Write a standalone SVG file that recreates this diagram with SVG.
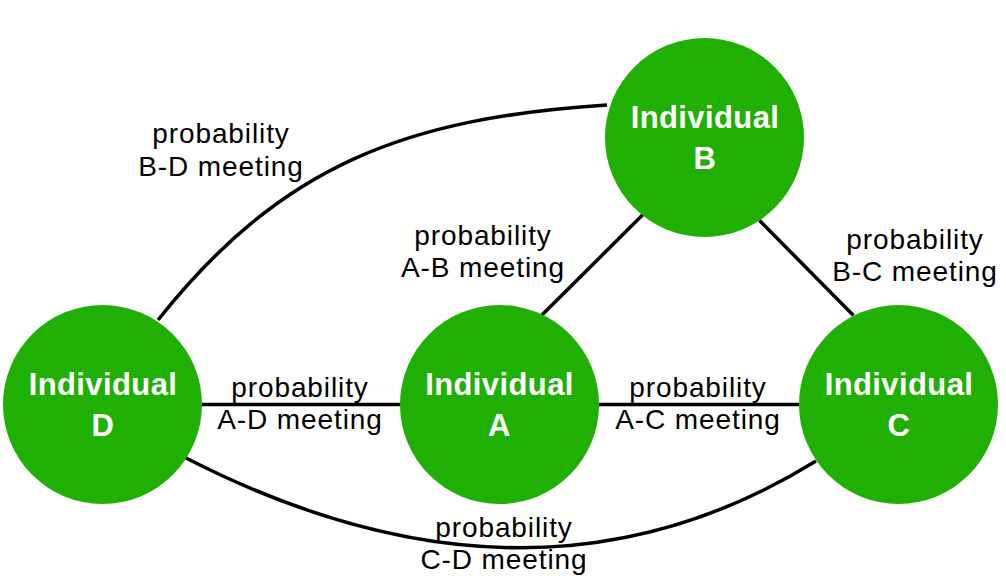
<svg xmlns="http://www.w3.org/2000/svg" width="1006" height="582" viewBox="0 0 1006 582">
<style>
.edge{fill:none;stroke:#000;stroke-width:3.5}
.node circle{fill:#20b004}
.nt{font-family:"Liberation Sans",Arial,sans-serif;font-size:31px;font-weight:bold;fill:#fff;text-anchor:middle;letter-spacing:0.4px}
.lbl{font-family:"Liberation Sans",Arial,sans-serif;font-size:28px;fill:#000;text-anchor:middle;letter-spacing:0.9px}
</style>
<rect width="1006" height="582" fill="#fff"/>
<g id="connectors">
<path class="edge" d="M158,320 C282,164 407,118 607,105"/>
<path class="edge" d="M186,458 Q533,636 816,461"/>
<line class="edge" x1="201" y1="404.5" x2="401" y2="404.5"/>
<line class="edge" x1="596" y1="404.5" x2="799" y2="404.5"/>
<line class="edge" x1="541.5" y1="315.5" x2="643" y2="214.5"/>
<line class="edge" x1="759.5" y1="220.5" x2="853.5" y2="315.5"/>
</g>
<g id="labels">
<text class="lbl" x="221" y="143">probability</text>
<text class="lbl" x="221" y="176">B-D meeting</text>
<text class="lbl" x="483" y="245">probability</text>
<text class="lbl" x="483" y="277">A-B meeting</text>
<text class="lbl" x="915" y="249">probability</text>
<text class="lbl" x="915" y="281">B-C meeting</text>
<text class="lbl" x="300" y="397">probability</text>
<text class="lbl" x="300" y="429">A-D meeting</text>
<text class="lbl" x="698" y="397">probability</text>
<text class="lbl" x="698" y="429">A-C meeting</text>
<text class="lbl" x="504" y="537">probability</text>
<text class="lbl" x="504" y="569">C-D meeting</text>
</g>
<g id="node-D" class="node">
<circle cx="102.5" cy="404.5" r="99.5"/>
<text class="nt" x="103" y="395">Individual</text>
<text class="nt" x="103" y="436">D</text>
</g>
<g id="node-A" class="node">
<circle cx="499.5" cy="404.5" r="99.5"/>
<text class="nt" x="499.5" y="395">Individual</text>
<text class="nt" x="499.5" y="436">A</text>
</g>
<g id="node-B" class="node">
<circle cx="704.5" cy="137.5" r="99.5"/>
<text class="nt" x="705" y="128">Individual</text>
<text class="nt" x="705" y="169">B</text>
</g>
<g id="node-C" class="node">
<circle cx="898.5" cy="404.5" r="99.5"/>
<text class="nt" x="899" y="395">Individual</text>
<text class="nt" x="899" y="436">C</text>
</g>
</svg>
